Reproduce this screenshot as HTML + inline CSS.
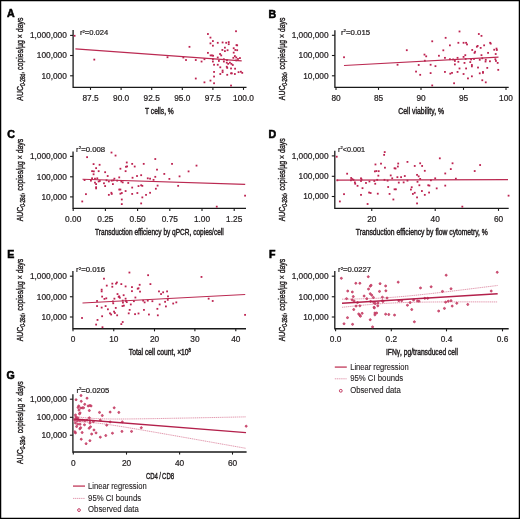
<!DOCTYPE html>
<html><head><meta charset="utf-8"><style>
html,body{margin:0;padding:0;background:#fff;}
body{width:520px;height:519px;overflow:hidden;}
svg{display:block;will-change:transform;}
text{font-family:"Liberation Sans",sans-serif;stroke:#231f20;stroke-width:0.22px;}
.lt{stroke:#000;stroke-width:0.55px;}
.tt{stroke-width:0.45px;}
.yl{stroke-width:0.42px;}
.lg{stroke-width:0.12px;}
</style></head><body>
<svg width="520" height="519" viewBox="0 0 520 519">
<rect x="0" y="0" width="520" height="519" fill="#fff"/>
<text x="7.10" y="16.60" font-size="10.6" text-anchor="start" font-weight="bold" fill="#000" class="lt">A</text>
<path d="M73.10 29.90 V87.30 H246.50" fill="none" stroke="#1a1a1a" stroke-width="1.3"/>
<path d="M70.10 35.40 H73.10" stroke="#1a1a1a" stroke-width="1.1"/>
<text x="66.80" y="38.30" font-size="8.3" text-anchor="end" font-weight="normal" fill="#231f20">1,000,000</text>
<path d="M70.10 55.50 H73.10" stroke="#1a1a1a" stroke-width="1.1"/>
<text x="66.80" y="58.40" font-size="8.3" text-anchor="end" font-weight="normal" fill="#231f20">100,000</text>
<path d="M70.10 75.80 H73.10" stroke="#1a1a1a" stroke-width="1.1"/>
<text x="66.80" y="78.70" font-size="8.3" text-anchor="end" font-weight="normal" fill="#231f20">10,000</text>
<path d="M90.50 87.30 V89.90" stroke="#1a1a1a" stroke-width="1.1"/>
<text x="90.50" y="100.90" font-size="8.3" text-anchor="middle" font-weight="normal" fill="#231f20">87.5</text>
<path d="M121.10 87.30 V89.90" stroke="#1a1a1a" stroke-width="1.1"/>
<text x="121.10" y="100.90" font-size="8.3" text-anchor="middle" font-weight="normal" fill="#231f20">90.0</text>
<path d="M151.70 87.30 V89.90" stroke="#1a1a1a" stroke-width="1.1"/>
<text x="151.70" y="100.90" font-size="8.3" text-anchor="middle" font-weight="normal" fill="#231f20">92.5</text>
<path d="M182.30 87.30 V89.90" stroke="#1a1a1a" stroke-width="1.1"/>
<text x="182.30" y="100.90" font-size="8.3" text-anchor="middle" font-weight="normal" fill="#231f20">95.0</text>
<path d="M212.90 87.30 V89.90" stroke="#1a1a1a" stroke-width="1.1"/>
<text x="212.90" y="100.90" font-size="8.3" text-anchor="middle" font-weight="normal" fill="#231f20">97.5</text>
<path d="M243.50 87.30 V89.90" stroke="#1a1a1a" stroke-width="1.1"/>
<text x="243.50" y="100.90" font-size="8.3" text-anchor="middle" font-weight="normal" fill="#231f20">100.0</text>
<text x="159.40" y="113.50" font-size="8.9" text-anchor="middle" font-weight="normal" fill="#231f20" textLength="28.80" lengthAdjust="spacingAndGlyphs" class="tt">T cells, %</text>
<g transform="translate(23.00,100.70) rotate(-90)">
<text class="yl" x="0" y="0" font-size="9.8" fill="#231f20" textLength="83.20" lengthAdjust="spacingAndGlyphs">AUC<tspan font-size="6.8" dy="2.2">0-28d</tspan><tspan dy="-2.2">, copies/µg × days</tspan></text>
</g>
<text x="79.90" y="35.00" font-size="7.4" fill="#231f20" textLength="28.40" lengthAdjust="spacingAndGlyphs">r<tspan font-size="4.2" dy="-2.4">2</tspan><tspan dy="2.4">=0.024</tspan></text>
<rect x="73.70" y="34.90" width="1.8" height="1.8" fill="#bd2250"/>
<rect x="93.40" y="58.70" width="1.8" height="1.8" fill="#bd2250"/>
<rect x="166.61" y="56.35" width="1.8" height="1.8" fill="#bd2250"/>
<rect x="182.45" y="56.58" width="1.8" height="1.8" fill="#bd2250"/>
<rect x="185.11" y="59.12" width="1.8" height="1.8" fill="#bd2250"/>
<rect x="188.58" y="45.94" width="1.8" height="1.8" fill="#bd2250"/>
<rect x="235.11" y="30.34" width="1.8" height="1.8" fill="#bd2250"/>
<rect x="207.02" y="33.11" width="1.8" height="1.8" fill="#bd2250"/>
<rect x="209.56" y="36.70" width="1.8" height="1.8" fill="#bd2250"/>
<rect x="211.99" y="40.16" width="1.8" height="1.8" fill="#bd2250"/>
<rect x="209.56" y="42.48" width="1.8" height="1.8" fill="#bd2250"/>
<rect x="211.99" y="44.79" width="1.8" height="1.8" fill="#bd2250"/>
<rect x="216.85" y="41.90" width="1.8" height="1.8" fill="#bd2250"/>
<rect x="221.70" y="41.55" width="1.8" height="1.8" fill="#bd2250"/>
<rect x="225.28" y="41.90" width="1.8" height="1.8" fill="#bd2250"/>
<rect x="227.83" y="41.20" width="1.8" height="1.8" fill="#bd2250"/>
<rect x="227.83" y="43.28" width="1.8" height="1.8" fill="#bd2250"/>
<rect x="235.57" y="44.21" width="1.8" height="1.8" fill="#bd2250"/>
<rect x="236.27" y="44.44" width="1.8" height="1.8" fill="#bd2250"/>
<rect x="224.01" y="46.75" width="1.8" height="1.8" fill="#bd2250"/>
<rect x="221.47" y="49.07" width="1.8" height="1.8" fill="#bd2250"/>
<rect x="224.01" y="50.22" width="1.8" height="1.8" fill="#bd2250"/>
<rect x="226.67" y="49.30" width="1.8" height="1.8" fill="#bd2250"/>
<rect x="232.80" y="47.33" width="1.8" height="1.8" fill="#bd2250"/>
<rect x="234.42" y="49.07" width="1.8" height="1.8" fill="#bd2250"/>
<rect x="236.27" y="49.30" width="1.8" height="1.8" fill="#bd2250"/>
<rect x="232.80" y="51.72" width="1.8" height="1.8" fill="#bd2250"/>
<rect x="207.02" y="51.96" width="1.8" height="1.8" fill="#bd2250"/>
<rect x="209.68" y="54.50" width="1.8" height="1.8" fill="#bd2250"/>
<rect x="211.07" y="54.50" width="1.8" height="1.8" fill="#bd2250"/>
<rect x="212.22" y="54.85" width="1.8" height="1.8" fill="#bd2250"/>
<rect x="219.16" y="53.11" width="1.8" height="1.8" fill="#bd2250"/>
<rect x="220.31" y="54.50" width="1.8" height="1.8" fill="#bd2250"/>
<rect x="216.85" y="56.58" width="1.8" height="1.8" fill="#bd2250"/>
<rect x="233.96" y="55.19" width="1.8" height="1.8" fill="#bd2250"/>
<rect x="232.45" y="56.93" width="1.8" height="1.8" fill="#bd2250"/>
<rect x="235.34" y="56.58" width="1.8" height="1.8" fill="#bd2250"/>
<rect x="237.08" y="58.08" width="1.8" height="1.8" fill="#bd2250"/>
<rect x="239.04" y="57.16" width="1.8" height="1.8" fill="#bd2250"/>
<rect x="194.88" y="59.12" width="1.8" height="1.8" fill="#bd2250"/>
<rect x="200.66" y="60.63" width="1.8" height="1.8" fill="#bd2250"/>
<rect x="203.55" y="58.31" width="1.8" height="1.8" fill="#bd2250"/>
<rect x="211.99" y="58.31" width="1.8" height="1.8" fill="#bd2250"/>
<rect x="211.99" y="60.63" width="1.8" height="1.8" fill="#bd2250"/>
<rect x="218.00" y="60.05" width="1.8" height="1.8" fill="#bd2250"/>
<rect x="222.97" y="58.31" width="1.8" height="1.8" fill="#bd2250"/>
<rect x="222.97" y="60.63" width="1.8" height="1.8" fill="#bd2250"/>
<rect x="226.09" y="59.24" width="1.8" height="1.8" fill="#bd2250"/>
<rect x="225.86" y="61.78" width="1.8" height="1.8" fill="#bd2250"/>
<rect x="227.25" y="62.94" width="1.8" height="1.8" fill="#bd2250"/>
<rect x="228.98" y="61.78" width="1.8" height="1.8" fill="#bd2250"/>
<rect x="230.49" y="62.94" width="1.8" height="1.8" fill="#bd2250"/>
<rect x="231.87" y="64.09" width="1.8" height="1.8" fill="#bd2250"/>
<rect x="235.34" y="59.47" width="1.8" height="1.8" fill="#bd2250"/>
<rect x="213.15" y="63.86" width="1.8" height="1.8" fill="#bd2250"/>
<rect x="216.85" y="63.86" width="1.8" height="1.8" fill="#bd2250"/>
<rect x="225.86" y="65.83" width="1.8" height="1.8" fill="#bd2250"/>
<rect x="226.33" y="66.98" width="1.8" height="1.8" fill="#bd2250"/>
<rect x="219.39" y="66.41" width="1.8" height="1.8" fill="#bd2250"/>
<rect x="230.14" y="67.56" width="1.8" height="1.8" fill="#bd2250"/>
<rect x="234.19" y="67.79" width="1.8" height="1.8" fill="#bd2250"/>
<rect x="213.15" y="71.03" width="1.8" height="1.8" fill="#bd2250"/>
<rect x="221.70" y="69.64" width="1.8" height="1.8" fill="#bd2250"/>
<rect x="221.70" y="71.26" width="1.8" height="1.8" fill="#bd2250"/>
<rect x="219.39" y="73.11" width="1.8" height="1.8" fill="#bd2250"/>
<rect x="226.33" y="73.92" width="1.8" height="1.8" fill="#bd2250"/>
<rect x="230.14" y="72.42" width="1.8" height="1.8" fill="#bd2250"/>
<rect x="230.95" y="72.42" width="1.8" height="1.8" fill="#bd2250"/>
<rect x="233.96" y="73.11" width="1.8" height="1.8" fill="#bd2250"/>
<rect x="237.65" y="71.26" width="1.8" height="1.8" fill="#bd2250"/>
<rect x="239.97" y="70.80" width="1.8" height="1.8" fill="#bd2250"/>
<rect x="241.35" y="71.96" width="1.8" height="1.8" fill="#bd2250"/>
<rect x="213.15" y="75.65" width="1.8" height="1.8" fill="#bd2250"/>
<rect x="194.88" y="77.62" width="1.8" height="1.8" fill="#bd2250"/>
<rect x="203.55" y="81.44" width="1.8" height="1.8" fill="#bd2250"/>
<rect x="209.56" y="79.70" width="1.8" height="1.8" fill="#bd2250"/>
<rect x="213.15" y="82.36" width="1.8" height="1.8" fill="#bd2250"/>
<rect x="230.14" y="84.67" width="1.8" height="1.8" fill="#bd2250"/>
<path d="M75.40 48.90 L241.70 60.90" stroke="#bb2a52" stroke-width="1.25" fill="none"/>
<text x="268.45" y="17.50" font-size="10.6" text-anchor="start" font-weight="bold" fill="#000" class="lt">B</text>
<path d="M334.90 30.20 V87.30 H508.70" fill="none" stroke="#1a1a1a" stroke-width="1.3"/>
<path d="M331.90 35.30 H334.90" stroke="#1a1a1a" stroke-width="1.1"/>
<text x="328.60" y="38.20" font-size="8.3" text-anchor="end" font-weight="normal" fill="#231f20">1,000,000</text>
<path d="M331.90 55.50 H334.90" stroke="#1a1a1a" stroke-width="1.1"/>
<text x="328.60" y="58.40" font-size="8.3" text-anchor="end" font-weight="normal" fill="#231f20">100,000</text>
<path d="M331.90 75.80 H334.90" stroke="#1a1a1a" stroke-width="1.1"/>
<text x="328.60" y="78.70" font-size="8.3" text-anchor="end" font-weight="normal" fill="#231f20">10,000</text>
<path d="M336.00 87.30 V89.90" stroke="#1a1a1a" stroke-width="1.1"/>
<text x="336.00" y="100.90" font-size="8.3" text-anchor="middle" font-weight="normal" fill="#231f20">80</text>
<path d="M378.50 87.30 V89.90" stroke="#1a1a1a" stroke-width="1.1"/>
<text x="378.50" y="100.90" font-size="8.3" text-anchor="middle" font-weight="normal" fill="#231f20">85</text>
<path d="M421.00 87.30 V89.90" stroke="#1a1a1a" stroke-width="1.1"/>
<text x="421.00" y="100.90" font-size="8.3" text-anchor="middle" font-weight="normal" fill="#231f20">90</text>
<path d="M463.50 87.30 V89.90" stroke="#1a1a1a" stroke-width="1.1"/>
<text x="463.50" y="100.90" font-size="8.3" text-anchor="middle" font-weight="normal" fill="#231f20">95</text>
<path d="M506.00 87.30 V89.90" stroke="#1a1a1a" stroke-width="1.1"/>
<text x="506.00" y="100.90" font-size="8.3" text-anchor="middle" font-weight="normal" fill="#231f20">100</text>
<text x="421.20" y="113.50" font-size="8.9" text-anchor="middle" font-weight="normal" fill="#231f20" textLength="45.80" lengthAdjust="spacingAndGlyphs" class="tt">Cell viability, %</text>
<g transform="translate(285.00,100.20) rotate(-90)">
<text class="yl" x="0" y="0" font-size="9.8" fill="#231f20" textLength="82.70" lengthAdjust="spacingAndGlyphs">AUC<tspan font-size="6.8" dy="2.2">0-28d</tspan><tspan dy="-2.2">, copies/µg × days</tspan></text>
</g>
<text x="341.00" y="34.70" font-size="7.4" fill="#231f20" textLength="29.10" lengthAdjust="spacingAndGlyphs">r<tspan font-size="4.2" dy="-2.4">2</tspan><tspan dy="2.4">=0.015</tspan></text>
<rect x="343.12" y="56.35" width="1.8" height="1.8" fill="#bd2250"/>
<rect x="444.74" y="36.93" width="1.8" height="1.8" fill="#bd2250"/>
<rect x="431.33" y="40.39" width="1.8" height="1.8" fill="#bd2250"/>
<rect x="449.01" y="44.44" width="1.8" height="1.8" fill="#bd2250"/>
<rect x="405.89" y="49.30" width="1.8" height="1.8" fill="#bd2250"/>
<rect x="442.42" y="49.41" width="1.8" height="1.8" fill="#bd2250"/>
<rect x="423.58" y="53.69" width="1.8" height="1.8" fill="#bd2250"/>
<rect x="425.31" y="55.42" width="1.8" height="1.8" fill="#bd2250"/>
<rect x="438.03" y="54.85" width="1.8" height="1.8" fill="#bd2250"/>
<rect x="444.04" y="56.93" width="1.8" height="1.8" fill="#bd2250"/>
<rect x="449.01" y="58.31" width="1.8" height="1.8" fill="#bd2250"/>
<rect x="423.93" y="59.82" width="1.8" height="1.8" fill="#bd2250"/>
<rect x="396.64" y="63.86" width="1.8" height="1.8" fill="#bd2250"/>
<rect x="417.80" y="64.09" width="1.8" height="1.8" fill="#bd2250"/>
<rect x="429.71" y="63.86" width="1.8" height="1.8" fill="#bd2250"/>
<rect x="434.56" y="65.25" width="1.8" height="1.8" fill="#bd2250"/>
<rect x="415.14" y="70.68" width="1.8" height="1.8" fill="#bd2250"/>
<rect x="419.30" y="73.92" width="1.8" height="1.8" fill="#bd2250"/>
<rect x="429.71" y="72.19" width="1.8" height="1.8" fill="#bd2250"/>
<rect x="444.04" y="71.03" width="1.8" height="1.8" fill="#bd2250"/>
<rect x="449.36" y="72.76" width="1.8" height="1.8" fill="#bd2250"/>
<rect x="431.33" y="84.56" width="1.8" height="1.8" fill="#bd2250"/>
<rect x="458.61" y="30.57" width="1.8" height="1.8" fill="#bd2250"/>
<rect x="477.92" y="33.11" width="1.8" height="1.8" fill="#bd2250"/>
<rect x="480.58" y="34.96" width="1.8" height="1.8" fill="#bd2250"/>
<rect x="457.46" y="41.90" width="1.8" height="1.8" fill="#bd2250"/>
<rect x="462.66" y="41.90" width="1.8" height="1.8" fill="#bd2250"/>
<rect x="465.20" y="41.90" width="1.8" height="1.8" fill="#bd2250"/>
<rect x="466.13" y="43.52" width="1.8" height="1.8" fill="#bd2250"/>
<rect x="489.25" y="41.90" width="1.8" height="1.8" fill="#bd2250"/>
<rect x="489.83" y="42.71" width="1.8" height="1.8" fill="#bd2250"/>
<rect x="476.76" y="45.02" width="1.8" height="1.8" fill="#bd2250"/>
<rect x="475.96" y="45.83" width="1.8" height="1.8" fill="#bd2250"/>
<rect x="479.77" y="46.98" width="1.8" height="1.8" fill="#bd2250"/>
<rect x="483.24" y="44.44" width="1.8" height="1.8" fill="#bd2250"/>
<rect x="471.33" y="49.07" width="1.8" height="1.8" fill="#bd2250"/>
<rect x="474.22" y="50.80" width="1.8" height="1.8" fill="#bd2250"/>
<rect x="473.64" y="51.96" width="1.8" height="1.8" fill="#bd2250"/>
<rect x="487.17" y="51.96" width="1.8" height="1.8" fill="#bd2250"/>
<rect x="493.30" y="48.83" width="1.8" height="1.8" fill="#bd2250"/>
<rect x="495.61" y="47.68" width="1.8" height="1.8" fill="#bd2250"/>
<rect x="495.96" y="49.07" width="1.8" height="1.8" fill="#bd2250"/>
<rect x="494.80" y="53.11" width="1.8" height="1.8" fill="#bd2250"/>
<rect x="464.39" y="54.27" width="1.8" height="1.8" fill="#bd2250"/>
<rect x="462.66" y="56.00" width="1.8" height="1.8" fill="#bd2250"/>
<rect x="480.58" y="54.27" width="1.8" height="1.8" fill="#bd2250"/>
<rect x="456.65" y="56.93" width="1.8" height="1.8" fill="#bd2250"/>
<rect x="452.26" y="58.55" width="1.8" height="1.8" fill="#bd2250"/>
<rect x="453.99" y="60.05" width="1.8" height="1.8" fill="#bd2250"/>
<rect x="457.46" y="60.86" width="1.8" height="1.8" fill="#bd2250"/>
<rect x="464.74" y="58.08" width="1.8" height="1.8" fill="#bd2250"/>
<rect x="470.18" y="58.55" width="1.8" height="1.8" fill="#bd2250"/>
<rect x="469.37" y="61.20" width="1.8" height="1.8" fill="#bd2250"/>
<rect x="473.07" y="58.08" width="1.8" height="1.8" fill="#bd2250"/>
<rect x="478.85" y="58.89" width="1.8" height="1.8" fill="#bd2250"/>
<rect x="481.39" y="57.39" width="1.8" height="1.8" fill="#bd2250"/>
<rect x="484.86" y="58.89" width="1.8" height="1.8" fill="#bd2250"/>
<rect x="484.63" y="60.63" width="1.8" height="1.8" fill="#bd2250"/>
<rect x="489.02" y="60.39" width="1.8" height="1.8" fill="#bd2250"/>
<rect x="494.45" y="58.31" width="1.8" height="1.8" fill="#bd2250"/>
<rect x="495.03" y="60.05" width="1.8" height="1.8" fill="#bd2250"/>
<rect x="496.76" y="62.01" width="1.8" height="1.8" fill="#bd2250"/>
<rect x="453.99" y="63.52" width="1.8" height="1.8" fill="#bd2250"/>
<rect x="463.59" y="62.01" width="1.8" height="1.8" fill="#bd2250"/>
<rect x="470.98" y="64.09" width="1.8" height="1.8" fill="#bd2250"/>
<rect x="470.98" y="65.48" width="1.8" height="1.8" fill="#bd2250"/>
<rect x="477.11" y="66.64" width="1.8" height="1.8" fill="#bd2250"/>
<rect x="486.36" y="66.98" width="1.8" height="1.8" fill="#bd2250"/>
<rect x="458.61" y="67.56" width="1.8" height="1.8" fill="#bd2250"/>
<rect x="465.20" y="67.56" width="1.8" height="1.8" fill="#bd2250"/>
<rect x="497.34" y="68.95" width="1.8" height="1.8" fill="#bd2250"/>
<rect x="451.10" y="71.96" width="1.8" height="1.8" fill="#bd2250"/>
<rect x="456.65" y="71.03" width="1.8" height="1.8" fill="#bd2250"/>
<rect x="462.66" y="73.11" width="1.8" height="1.8" fill="#bd2250"/>
<rect x="478.85" y="72.42" width="1.8" height="1.8" fill="#bd2250"/>
<rect x="482.08" y="71.03" width="1.8" height="1.8" fill="#bd2250"/>
<rect x="482.08" y="71.96" width="1.8" height="1.8" fill="#bd2250"/>
<rect x="467.05" y="77.50" width="1.8" height="1.8" fill="#bd2250"/>
<rect x="470.98" y="75.42" width="1.8" height="1.8" fill="#bd2250"/>
<rect x="481.39" y="79.35" width="1.8" height="1.8" fill="#bd2250"/>
<rect x="484.86" y="81.44" width="1.8" height="1.8" fill="#bd2250"/>
<rect x="453.18" y="82.36" width="1.8" height="1.8" fill="#bd2250"/>
<path d="M344.00 65.50 L498.50 57.20" stroke="#bb2a52" stroke-width="1.25" fill="none"/>
<text x="7.20" y="137.50" font-size="10.6" text-anchor="start" font-weight="bold" fill="#000" class="lt">C</text>
<path d="M73.05 151.40 V208.30 H246.00" fill="none" stroke="#1a1a1a" stroke-width="1.3"/>
<path d="M70.05 156.40 H73.05" stroke="#1a1a1a" stroke-width="1.1"/>
<text x="66.80" y="159.30" font-size="8.3" text-anchor="end" font-weight="normal" fill="#231f20">1,000,000</text>
<path d="M70.05 176.80 H73.05" stroke="#1a1a1a" stroke-width="1.1"/>
<text x="66.80" y="179.70" font-size="8.3" text-anchor="end" font-weight="normal" fill="#231f20">100,000</text>
<path d="M70.05 196.90 H73.05" stroke="#1a1a1a" stroke-width="1.1"/>
<text x="66.80" y="199.80" font-size="8.3" text-anchor="end" font-weight="normal" fill="#231f20">10,000</text>
<path d="M73.20 208.30 V210.90" stroke="#1a1a1a" stroke-width="1.1"/>
<text x="73.20" y="221.90" font-size="8.3" text-anchor="middle" font-weight="normal" fill="#231f20">0.00</text>
<path d="M105.40 208.30 V210.90" stroke="#1a1a1a" stroke-width="1.1"/>
<text x="105.40" y="221.90" font-size="8.3" text-anchor="middle" font-weight="normal" fill="#231f20">0.25</text>
<path d="M137.60 208.30 V210.90" stroke="#1a1a1a" stroke-width="1.1"/>
<text x="137.60" y="221.90" font-size="8.3" text-anchor="middle" font-weight="normal" fill="#231f20">0.50</text>
<path d="M169.80 208.30 V210.90" stroke="#1a1a1a" stroke-width="1.1"/>
<text x="169.80" y="221.90" font-size="8.3" text-anchor="middle" font-weight="normal" fill="#231f20">0.75</text>
<path d="M202.00 208.30 V210.90" stroke="#1a1a1a" stroke-width="1.1"/>
<text x="202.00" y="221.90" font-size="8.3" text-anchor="middle" font-weight="normal" fill="#231f20">1.00</text>
<path d="M234.20 208.30 V210.90" stroke="#1a1a1a" stroke-width="1.1"/>
<text x="234.20" y="221.90" font-size="8.3" text-anchor="middle" font-weight="normal" fill="#231f20">1.25</text>
<text x="159.40" y="235.00" font-size="8.9" text-anchor="middle" font-weight="normal" fill="#231f20" textLength="128.60" lengthAdjust="spacingAndGlyphs" class="tt">Transduction efficiency by qPCR, copies/cell</text>
<g transform="translate(23.00,221.30) rotate(-90)">
<text class="yl" x="0" y="0" font-size="9.8" fill="#231f20" textLength="82.50" lengthAdjust="spacingAndGlyphs">AUC<tspan font-size="6.8" dy="2.2">0-28d</tspan><tspan dy="-2.2">, copies/µg × days</tspan></text>
</g>
<text x="76.10" y="151.60" font-size="7.4" fill="#231f20" textLength="29.10" lengthAdjust="spacingAndGlyphs">r<tspan font-size="4.2" dy="-2.4">2</tspan><tspan dy="2.4">=0.008</tspan></text>
<rect x="110.60" y="151.64" width="1.8" height="1.8" fill="#bd2250"/>
<rect x="114.64" y="154.65" width="1.8" height="1.8" fill="#bd2250"/>
<rect x="86.20" y="156.27" width="1.8" height="1.8" fill="#bd2250"/>
<rect x="92.68" y="163.20" width="1.8" height="1.8" fill="#bd2250"/>
<rect x="98.69" y="163.90" width="1.8" height="1.8" fill="#bd2250"/>
<rect x="95.22" y="167.25" width="1.8" height="1.8" fill="#bd2250"/>
<rect x="91.18" y="170.26" width="1.8" height="1.8" fill="#bd2250"/>
<rect x="92.91" y="170.49" width="1.8" height="1.8" fill="#bd2250"/>
<rect x="97.76" y="170.26" width="1.8" height="1.8" fill="#bd2250"/>
<rect x="92.68" y="173.38" width="1.8" height="1.8" fill="#bd2250"/>
<rect x="104.24" y="171.30" width="1.8" height="1.8" fill="#bd2250"/>
<rect x="106.78" y="175.11" width="1.8" height="1.8" fill="#bd2250"/>
<rect x="119.50" y="167.83" width="1.8" height="1.8" fill="#bd2250"/>
<rect x="125.86" y="161.59" width="1.8" height="1.8" fill="#bd2250"/>
<rect x="125.05" y="165.86" width="1.8" height="1.8" fill="#bd2250"/>
<rect x="126.20" y="165.52" width="1.8" height="1.8" fill="#bd2250"/>
<rect x="124.70" y="170.26" width="1.8" height="1.8" fill="#bd2250"/>
<rect x="131.29" y="162.97" width="1.8" height="1.8" fill="#bd2250"/>
<rect x="118.34" y="176.50" width="1.8" height="1.8" fill="#bd2250"/>
<rect x="131.64" y="176.85" width="1.8" height="1.8" fill="#bd2250"/>
<rect x="83.66" y="179.16" width="1.8" height="1.8" fill="#bd2250"/>
<rect x="90.02" y="179.74" width="1.8" height="1.8" fill="#bd2250"/>
<rect x="91.18" y="177.42" width="1.8" height="1.8" fill="#bd2250"/>
<rect x="94.07" y="177.77" width="1.8" height="1.8" fill="#bd2250"/>
<rect x="96.38" y="177.42" width="1.8" height="1.8" fill="#bd2250"/>
<rect x="94.07" y="181.70" width="1.8" height="1.8" fill="#bd2250"/>
<rect x="95.22" y="183.20" width="1.8" height="1.8" fill="#bd2250"/>
<rect x="97.76" y="180.55" width="1.8" height="1.8" fill="#bd2250"/>
<rect x="98.92" y="180.08" width="1.8" height="1.8" fill="#bd2250"/>
<rect x="103.08" y="182.39" width="1.8" height="1.8" fill="#bd2250"/>
<rect x="104.24" y="185.17" width="1.8" height="1.8" fill="#bd2250"/>
<rect x="105.63" y="179.39" width="1.8" height="1.8" fill="#bd2250"/>
<rect x="107.94" y="180.55" width="1.8" height="1.8" fill="#bd2250"/>
<rect x="110.83" y="179.74" width="1.8" height="1.8" fill="#bd2250"/>
<rect x="112.56" y="179.39" width="1.8" height="1.8" fill="#bd2250"/>
<rect x="113.49" y="177.77" width="1.8" height="1.8" fill="#bd2250"/>
<rect x="116.26" y="179.74" width="1.8" height="1.8" fill="#bd2250"/>
<rect x="111.98" y="183.20" width="1.8" height="1.8" fill="#bd2250"/>
<rect x="120.42" y="180.55" width="1.8" height="1.8" fill="#bd2250"/>
<rect x="121.81" y="181.47" width="1.8" height="1.8" fill="#bd2250"/>
<rect x="127.36" y="182.05" width="1.8" height="1.8" fill="#bd2250"/>
<rect x="95.22" y="186.33" width="1.8" height="1.8" fill="#bd2250"/>
<rect x="95.22" y="187.48" width="1.8" height="1.8" fill="#bd2250"/>
<rect x="118.34" y="188.64" width="1.8" height="1.8" fill="#bd2250"/>
<rect x="119.50" y="188.64" width="1.8" height="1.8" fill="#bd2250"/>
<rect x="124.70" y="190.14" width="1.8" height="1.8" fill="#bd2250"/>
<rect x="131.29" y="186.67" width="1.8" height="1.8" fill="#bd2250"/>
<rect x="85.05" y="193.26" width="1.8" height="1.8" fill="#bd2250"/>
<rect x="107.94" y="193.96" width="1.8" height="1.8" fill="#bd2250"/>
<rect x="110.48" y="191.87" width="1.8" height="1.8" fill="#bd2250"/>
<rect x="110.83" y="193.03" width="1.8" height="1.8" fill="#bd2250"/>
<rect x="119.50" y="192.80" width="1.8" height="1.8" fill="#bd2250"/>
<rect x="120.89" y="192.11" width="1.8" height="1.8" fill="#bd2250"/>
<rect x="131.29" y="193.03" width="1.8" height="1.8" fill="#bd2250"/>
<rect x="81.35" y="200.55" width="1.8" height="1.8" fill="#bd2250"/>
<rect x="120.89" y="198.58" width="1.8" height="1.8" fill="#bd2250"/>
<rect x="120.89" y="203.20" width="1.8" height="1.8" fill="#bd2250"/>
<rect x="154.38" y="158.12" width="1.8" height="1.8" fill="#bd2250"/>
<rect x="142.82" y="162.97" width="1.8" height="1.8" fill="#bd2250"/>
<rect x="133.80" y="165.63" width="1.8" height="1.8" fill="#bd2250"/>
<rect x="171.14" y="162.97" width="1.8" height="1.8" fill="#bd2250"/>
<rect x="156.11" y="168.75" width="1.8" height="1.8" fill="#bd2250"/>
<rect x="187.67" y="170.49" width="1.8" height="1.8" fill="#bd2250"/>
<rect x="163.39" y="173.03" width="1.8" height="1.8" fill="#bd2250"/>
<rect x="136.11" y="175.11" width="1.8" height="1.8" fill="#bd2250"/>
<rect x="140.27" y="174.30" width="1.8" height="1.8" fill="#bd2250"/>
<rect x="146.86" y="177.42" width="1.8" height="1.8" fill="#bd2250"/>
<rect x="149.18" y="177.77" width="1.8" height="1.8" fill="#bd2250"/>
<rect x="154.38" y="175.92" width="1.8" height="1.8" fill="#bd2250"/>
<rect x="152.64" y="178.93" width="1.8" height="1.8" fill="#bd2250"/>
<rect x="168.48" y="178.00" width="1.8" height="1.8" fill="#bd2250"/>
<rect x="178.65" y="175.46" width="1.8" height="1.8" fill="#bd2250"/>
<rect x="137.61" y="185.17" width="1.8" height="1.8" fill="#bd2250"/>
<rect x="140.27" y="184.36" width="1.8" height="1.8" fill="#bd2250"/>
<rect x="141.43" y="184.94" width="1.8" height="1.8" fill="#bd2250"/>
<rect x="156.69" y="184.71" width="1.8" height="1.8" fill="#bd2250"/>
<rect x="154.96" y="187.83" width="1.8" height="1.8" fill="#bd2250"/>
<rect x="177.27" y="184.94" width="1.8" height="1.8" fill="#bd2250"/>
<rect x="136.46" y="192.11" width="1.8" height="1.8" fill="#bd2250"/>
<rect x="149.18" y="191.87" width="1.8" height="1.8" fill="#bd2250"/>
<rect x="145.13" y="193.96" width="1.8" height="1.8" fill="#bd2250"/>
<rect x="141.43" y="196.50" width="1.8" height="1.8" fill="#bd2250"/>
<rect x="140.27" y="202.51" width="1.8" height="1.8" fill="#bd2250"/>
<rect x="195.61" y="164.71" width="1.8" height="1.8" fill="#bd2250"/>
<rect x="244.17" y="194.76" width="1.8" height="1.8" fill="#bd2250"/>
<rect x="215.85" y="205.75" width="1.8" height="1.8" fill="#bd2250"/>
<path d="M82.50 179.25 L245.20 184.40" stroke="#bb2a52" stroke-width="1.25" fill="none"/>
<text x="268.45" y="137.50" font-size="10.6" text-anchor="start" font-weight="bold" fill="#000" class="lt">D</text>
<path d="M334.80 150.80 V208.30 H508.70" fill="none" stroke="#1a1a1a" stroke-width="1.3"/>
<path d="M331.80 155.90 H334.80" stroke="#1a1a1a" stroke-width="1.1"/>
<text x="328.60" y="158.80" font-size="8.3" text-anchor="end" font-weight="normal" fill="#231f20">1,000,000</text>
<path d="M331.80 176.30 H334.80" stroke="#1a1a1a" stroke-width="1.1"/>
<text x="328.60" y="179.20" font-size="8.3" text-anchor="end" font-weight="normal" fill="#231f20">100,000</text>
<path d="M331.80 196.50 H334.80" stroke="#1a1a1a" stroke-width="1.1"/>
<text x="328.60" y="199.40" font-size="8.3" text-anchor="end" font-weight="normal" fill="#231f20">10,000</text>
<path d="M371.75 208.30 V210.90" stroke="#1a1a1a" stroke-width="1.1"/>
<text x="371.75" y="221.90" font-size="8.3" text-anchor="middle" font-weight="normal" fill="#231f20">20</text>
<path d="M435.20 208.30 V210.90" stroke="#1a1a1a" stroke-width="1.1"/>
<text x="435.20" y="221.90" font-size="8.3" text-anchor="middle" font-weight="normal" fill="#231f20">40</text>
<path d="M498.50 208.30 V210.90" stroke="#1a1a1a" stroke-width="1.1"/>
<text x="498.50" y="221.90" font-size="8.3" text-anchor="middle" font-weight="normal" fill="#231f20">60</text>
<text x="421.80" y="235.00" font-size="8.9" text-anchor="middle" font-weight="normal" fill="#231f20" textLength="132.00" lengthAdjust="spacingAndGlyphs" class="tt">Transduction efficiency by flow cytometry, %</text>
<g transform="translate(285.00,221.30) rotate(-90)">
<text class="yl" x="0" y="0" font-size="9.8" fill="#231f20" textLength="83.00" lengthAdjust="spacingAndGlyphs">AUC<tspan font-size="6.8" dy="2.2">0-28d</tspan><tspan dy="-2.2">, copies/µg × days</tspan></text>
</g>
<text x="338.10" y="151.80" font-size="7.4" fill="#231f20" textLength="26.90" lengthAdjust="spacingAndGlyphs">r<tspan font-size="4.2" dy="-2.4">2</tspan><tspan dy="2.4">&lt;0.001</tspan></text>
<rect x="335.83" y="155.81" width="1.8" height="1.8" fill="#bd2250"/>
<rect x="383.81" y="151.18" width="1.8" height="1.8" fill="#bd2250"/>
<rect x="383.23" y="153.96" width="1.8" height="1.8" fill="#bd2250"/>
<rect x="374.56" y="163.55" width="1.8" height="1.8" fill="#bd2250"/>
<rect x="380.11" y="162.74" width="1.8" height="1.8" fill="#bd2250"/>
<rect x="384.04" y="166.79" width="1.8" height="1.8" fill="#bd2250"/>
<rect x="393.64" y="167.37" width="1.8" height="1.8" fill="#bd2250"/>
<rect x="373.98" y="170.49" width="1.8" height="1.8" fill="#bd2250"/>
<rect x="375.49" y="170.14" width="1.8" height="1.8" fill="#bd2250"/>
<rect x="377.80" y="170.26" width="1.8" height="1.8" fill="#bd2250"/>
<rect x="377.45" y="174.76" width="1.8" height="1.8" fill="#bd2250"/>
<rect x="346.24" y="172.80" width="1.8" height="1.8" fill="#bd2250"/>
<rect x="389.82" y="174.53" width="1.8" height="1.8" fill="#bd2250"/>
<rect x="391.33" y="177.42" width="1.8" height="1.8" fill="#bd2250"/>
<rect x="336.41" y="179.39" width="1.8" height="1.8" fill="#bd2250"/>
<rect x="350.28" y="177.08" width="1.8" height="1.8" fill="#bd2250"/>
<rect x="351.44" y="178.23" width="1.8" height="1.8" fill="#bd2250"/>
<rect x="350.05" y="179.39" width="1.8" height="1.8" fill="#bd2250"/>
<rect x="352.60" y="178.93" width="1.8" height="1.8" fill="#bd2250"/>
<rect x="353.98" y="181.47" width="1.8" height="1.8" fill="#bd2250"/>
<rect x="354.33" y="182.86" width="1.8" height="1.8" fill="#bd2250"/>
<rect x="360.11" y="177.42" width="1.8" height="1.8" fill="#bd2250"/>
<rect x="360.69" y="178.58" width="1.8" height="1.8" fill="#bd2250"/>
<rect x="360.11" y="180.08" width="1.8" height="1.8" fill="#bd2250"/>
<rect x="365.08" y="182.05" width="1.8" height="1.8" fill="#bd2250"/>
<rect x="368.55" y="180.55" width="1.8" height="1.8" fill="#bd2250"/>
<rect x="373.41" y="180.08" width="1.8" height="1.8" fill="#bd2250"/>
<rect x="374.33" y="182.86" width="1.8" height="1.8" fill="#bd2250"/>
<rect x="376.30" y="178.93" width="1.8" height="1.8" fill="#bd2250"/>
<rect x="383.58" y="178.93" width="1.8" height="1.8" fill="#bd2250"/>
<rect x="386.70" y="179.74" width="1.8" height="1.8" fill="#bd2250"/>
<rect x="387.28" y="186.09" width="1.8" height="1.8" fill="#bd2250"/>
<rect x="356.64" y="184.94" width="1.8" height="1.8" fill="#bd2250"/>
<rect x="361.61" y="187.25" width="1.8" height="1.8" fill="#bd2250"/>
<rect x="393.64" y="188.41" width="1.8" height="1.8" fill="#bd2250"/>
<rect x="343.12" y="193.26" width="1.8" height="1.8" fill="#bd2250"/>
<rect x="360.11" y="193.96" width="1.8" height="1.8" fill="#bd2250"/>
<rect x="368.20" y="191.64" width="1.8" height="1.8" fill="#bd2250"/>
<rect x="369.71" y="192.11" width="1.8" height="1.8" fill="#bd2250"/>
<rect x="376.87" y="192.80" width="1.8" height="1.8" fill="#bd2250"/>
<rect x="388.67" y="193.03" width="1.8" height="1.8" fill="#bd2250"/>
<rect x="338.96" y="200.55" width="1.8" height="1.8" fill="#bd2250"/>
<rect x="392.48" y="198.58" width="1.8" height="1.8" fill="#bd2250"/>
<rect x="366.70" y="203.09" width="1.8" height="1.8" fill="#bd2250"/>
<rect x="438.92" y="157.42" width="1.8" height="1.8" fill="#bd2250"/>
<rect x="406.55" y="161.01" width="1.8" height="1.8" fill="#bd2250"/>
<rect x="397.30" y="162.63" width="1.8" height="1.8" fill="#bd2250"/>
<rect x="396.96" y="165.63" width="1.8" height="1.8" fill="#bd2250"/>
<rect x="394.64" y="167.60" width="1.8" height="1.8" fill="#bd2250"/>
<rect x="413.83" y="165.05" width="1.8" height="1.8" fill="#bd2250"/>
<rect x="419.27" y="162.39" width="1.8" height="1.8" fill="#bd2250"/>
<rect x="421.23" y="165.05" width="1.8" height="1.8" fill="#bd2250"/>
<rect x="423.89" y="169.91" width="1.8" height="1.8" fill="#bd2250"/>
<rect x="451.64" y="162.39" width="1.8" height="1.8" fill="#bd2250"/>
<rect x="449.90" y="168.18" width="1.8" height="1.8" fill="#bd2250"/>
<rect x="444.35" y="172.57" width="1.8" height="1.8" fill="#bd2250"/>
<rect x="396.49" y="176.27" width="1.8" height="1.8" fill="#bd2250"/>
<rect x="400.19" y="176.27" width="1.8" height="1.8" fill="#bd2250"/>
<rect x="403.89" y="175.11" width="1.8" height="1.8" fill="#bd2250"/>
<rect x="416.15" y="173.96" width="1.8" height="1.8" fill="#bd2250"/>
<rect x="417.76" y="175.46" width="1.8" height="1.8" fill="#bd2250"/>
<rect x="419.27" y="178.00" width="1.8" height="1.8" fill="#bd2250"/>
<rect x="434.30" y="177.42" width="1.8" height="1.8" fill="#bd2250"/>
<rect x="406.55" y="179.74" width="1.8" height="1.8" fill="#bd2250"/>
<rect x="397.88" y="181.70" width="1.8" height="1.8" fill="#bd2250"/>
<rect x="402.74" y="181.47" width="1.8" height="1.8" fill="#bd2250"/>
<rect x="416.61" y="180.89" width="1.8" height="1.8" fill="#bd2250"/>
<rect x="430.02" y="179.39" width="1.8" height="1.8" fill="#bd2250"/>
<rect x="418.46" y="184.36" width="1.8" height="1.8" fill="#bd2250"/>
<rect x="427.36" y="184.36" width="1.8" height="1.8" fill="#bd2250"/>
<rect x="428.52" y="184.71" width="1.8" height="1.8" fill="#bd2250"/>
<rect x="444.35" y="184.71" width="1.8" height="1.8" fill="#bd2250"/>
<rect x="410.83" y="186.33" width="1.8" height="1.8" fill="#bd2250"/>
<rect x="410.02" y="188.64" width="1.8" height="1.8" fill="#bd2250"/>
<rect x="394.99" y="188.41" width="1.8" height="1.8" fill="#bd2250"/>
<rect x="435.80" y="187.48" width="1.8" height="1.8" fill="#bd2250"/>
<rect x="421.00" y="190.14" width="1.8" height="1.8" fill="#bd2250"/>
<rect x="411.98" y="193.03" width="1.8" height="1.8" fill="#bd2250"/>
<rect x="413.83" y="191.87" width="1.8" height="1.8" fill="#bd2250"/>
<rect x="428.17" y="191.64" width="1.8" height="1.8" fill="#bd2250"/>
<rect x="423.89" y="193.96" width="1.8" height="1.8" fill="#bd2250"/>
<rect x="416.15" y="196.50" width="1.8" height="1.8" fill="#bd2250"/>
<rect x="416.15" y="202.51" width="1.8" height="1.8" fill="#bd2250"/>
<rect x="454.96" y="177.77" width="1.8" height="1.8" fill="#bd2250"/>
<rect x="473.80" y="170.14" width="1.8" height="1.8" fill="#bd2250"/>
<rect x="479.23" y="164.13" width="1.8" height="1.8" fill="#bd2250"/>
<rect x="507.67" y="194.76" width="1.8" height="1.8" fill="#bd2250"/>
<rect x="461.43" y="205.75" width="1.8" height="1.8" fill="#bd2250"/>
<path d="M336.75 180.00 L508.00 179.60" stroke="#bb2a52" stroke-width="1.25" fill="none"/>
<text x="7.20" y="258.00" font-size="10.6" text-anchor="start" font-weight="bold" fill="#000" class="lt">E</text>
<path d="M72.90 271.10 V328.75 H246.00" fill="none" stroke="#1a1a1a" stroke-width="1.3"/>
<path d="M69.90 276.20 H72.90" stroke="#1a1a1a" stroke-width="1.1"/>
<text x="66.80" y="279.10" font-size="8.3" text-anchor="end" font-weight="normal" fill="#231f20">1,000,000</text>
<path d="M69.90 296.75 H72.90" stroke="#1a1a1a" stroke-width="1.1"/>
<text x="66.80" y="299.65" font-size="8.3" text-anchor="end" font-weight="normal" fill="#231f20">100,000</text>
<path d="M69.90 317.00 H72.90" stroke="#1a1a1a" stroke-width="1.1"/>
<text x="66.80" y="319.90" font-size="8.3" text-anchor="end" font-weight="normal" fill="#231f20">10,000</text>
<path d="M73.00 328.75 V331.35" stroke="#1a1a1a" stroke-width="1.1"/>
<text x="73.00" y="342.35" font-size="8.3" text-anchor="middle" font-weight="normal" fill="#231f20">0</text>
<path d="M113.75 328.75 V331.35" stroke="#1a1a1a" stroke-width="1.1"/>
<text x="113.75" y="342.35" font-size="8.3" text-anchor="middle" font-weight="normal" fill="#231f20">10</text>
<path d="M154.50 328.75 V331.35" stroke="#1a1a1a" stroke-width="1.1"/>
<text x="154.50" y="342.35" font-size="8.3" text-anchor="middle" font-weight="normal" fill="#231f20">20</text>
<path d="M194.90 328.75 V331.35" stroke="#1a1a1a" stroke-width="1.1"/>
<text x="194.90" y="342.35" font-size="8.3" text-anchor="middle" font-weight="normal" fill="#231f20">30</text>
<path d="M235.80 328.75 V331.35" stroke="#1a1a1a" stroke-width="1.1"/>
<text x="235.80" y="342.35" font-size="8.3" text-anchor="middle" font-weight="normal" fill="#231f20">40</text>
<text x="159.90" y="354.80" font-size="8.9" text-anchor="middle" font-weight="normal" fill="#231f20" textLength="62.10" lengthAdjust="spacingAndGlyphs" class="tt">Total cell count, ×10<tspan font-size="5.5" dy="-3">8</tspan></text>
<g transform="translate(23.00,341.30) rotate(-90)">
<text class="yl" x="0" y="0" font-size="9.8" fill="#231f20" textLength="82.50" lengthAdjust="spacingAndGlyphs">AUC<tspan font-size="6.8" dy="2.2">0-28d</tspan><tspan dy="-2.2">, copies/µg × days</tspan></text>
</g>
<text x="76.10" y="272.40" font-size="7.4" fill="#231f20" textLength="29.10" lengthAdjust="spacingAndGlyphs">r<tspan font-size="4.2" dy="-2.4">2</tspan><tspan dy="2.4">=0.016</tspan></text>
<rect x="128.52" y="271.64" width="1.8" height="1.8" fill="#bd2250"/>
<rect x="103.08" y="277.77" width="1.8" height="1.8" fill="#bd2250"/>
<rect x="105.86" y="284.71" width="1.8" height="1.8" fill="#bd2250"/>
<rect x="111.41" y="282.74" width="1.8" height="1.8" fill="#bd2250"/>
<rect x="111.41" y="285.86" width="1.8" height="1.8" fill="#bd2250"/>
<rect x="115.11" y="282.74" width="1.8" height="1.8" fill="#bd2250"/>
<rect x="116.03" y="281.59" width="1.8" height="1.8" fill="#bd2250"/>
<rect x="120.42" y="283.20" width="1.8" height="1.8" fill="#bd2250"/>
<rect x="124.70" y="285.52" width="1.8" height="1.8" fill="#bd2250"/>
<rect x="131.06" y="286.21" width="1.8" height="1.8" fill="#bd2250"/>
<rect x="131.06" y="290.26" width="1.8" height="1.8" fill="#bd2250"/>
<rect x="100.77" y="288.75" width="1.8" height="1.8" fill="#bd2250"/>
<rect x="100.77" y="290.49" width="1.8" height="1.8" fill="#bd2250"/>
<rect x="101.23" y="295.69" width="1.8" height="1.8" fill="#bd2250"/>
<rect x="103.55" y="298.00" width="1.8" height="1.8" fill="#bd2250"/>
<rect x="105.39" y="297.42" width="1.8" height="1.8" fill="#bd2250"/>
<rect x="116.61" y="293.15" width="1.8" height="1.8" fill="#bd2250"/>
<rect x="117.76" y="295.92" width="1.8" height="1.8" fill="#bd2250"/>
<rect x="118.92" y="296.85" width="1.8" height="1.8" fill="#bd2250"/>
<rect x="118.34" y="295.46" width="1.8" height="1.8" fill="#bd2250"/>
<rect x="122.74" y="294.30" width="1.8" height="1.8" fill="#bd2250"/>
<rect x="124.70" y="297.77" width="1.8" height="1.8" fill="#bd2250"/>
<rect x="113.49" y="297.77" width="1.8" height="1.8" fill="#bd2250"/>
<rect x="96.15" y="300.08" width="1.8" height="1.8" fill="#bd2250"/>
<rect x="111.98" y="300.55" width="1.8" height="1.8" fill="#bd2250"/>
<rect x="112.33" y="302.39" width="1.8" height="1.8" fill="#bd2250"/>
<rect x="121.81" y="299.74" width="1.8" height="1.8" fill="#bd2250"/>
<rect x="122.04" y="301.70" width="1.8" height="1.8" fill="#bd2250"/>
<rect x="125.05" y="300.08" width="1.8" height="1.8" fill="#bd2250"/>
<rect x="125.86" y="301.24" width="1.8" height="1.8" fill="#bd2250"/>
<rect x="96.15" y="305.17" width="1.8" height="1.8" fill="#bd2250"/>
<rect x="100.77" y="306.67" width="1.8" height="1.8" fill="#bd2250"/>
<rect x="104.70" y="305.17" width="1.8" height="1.8" fill="#bd2250"/>
<rect x="107.01" y="308.41" width="1.8" height="1.8" fill="#bd2250"/>
<rect x="114.87" y="307.02" width="1.8" height="1.8" fill="#bd2250"/>
<rect x="121.58" y="305.17" width="1.8" height="1.8" fill="#bd2250"/>
<rect x="122.97" y="304.71" width="1.8" height="1.8" fill="#bd2250"/>
<rect x="129.90" y="303.55" width="1.8" height="1.8" fill="#bd2250"/>
<rect x="128.75" y="308.98" width="1.8" height="1.8" fill="#bd2250"/>
<rect x="109.09" y="312.45" width="1.8" height="1.8" fill="#bd2250"/>
<rect x="110.25" y="313.61" width="1.8" height="1.8" fill="#bd2250"/>
<rect x="113.14" y="310.72" width="1.8" height="1.8" fill="#bd2250"/>
<rect x="113.95" y="312.11" width="1.8" height="1.8" fill="#bd2250"/>
<rect x="116.26" y="314.42" width="1.8" height="1.8" fill="#bd2250"/>
<rect x="127.82" y="312.45" width="1.8" height="1.8" fill="#bd2250"/>
<rect x="81.12" y="317.08" width="1.8" height="1.8" fill="#bd2250"/>
<rect x="101.23" y="315.34" width="1.8" height="1.8" fill="#bd2250"/>
<rect x="96.61" y="319.04" width="1.8" height="1.8" fill="#bd2250"/>
<rect x="95.22" y="323.67" width="1.8" height="1.8" fill="#bd2250"/>
<rect x="101.58" y="326.33" width="1.8" height="1.8" fill="#bd2250"/>
<rect x="120.42" y="323.20" width="1.8" height="1.8" fill="#bd2250"/>
<rect x="121.81" y="321.12" width="1.8" height="1.8" fill="#bd2250"/>
<rect x="147.21" y="274.30" width="1.8" height="1.8" fill="#bd2250"/>
<rect x="138.77" y="283.90" width="1.8" height="1.8" fill="#bd2250"/>
<rect x="149.52" y="283.20" width="1.8" height="1.8" fill="#bd2250"/>
<rect x="136.81" y="287.83" width="1.8" height="1.8" fill="#bd2250"/>
<rect x="137.61" y="287.37" width="1.8" height="1.8" fill="#bd2250"/>
<rect x="139.12" y="290.72" width="1.8" height="1.8" fill="#bd2250"/>
<rect x="134.49" y="296.61" width="1.8" height="1.8" fill="#bd2250"/>
<rect x="132.99" y="300.31" width="1.8" height="1.8" fill="#bd2250"/>
<rect x="142.24" y="299.74" width="1.8" height="1.8" fill="#bd2250"/>
<rect x="143.74" y="301.47" width="1.8" height="1.8" fill="#bd2250"/>
<rect x="146.86" y="299.74" width="1.8" height="1.8" fill="#bd2250"/>
<rect x="151.49" y="300.31" width="1.8" height="1.8" fill="#bd2250"/>
<rect x="143.05" y="308.98" width="1.8" height="1.8" fill="#bd2250"/>
<rect x="134.15" y="313.26" width="1.8" height="1.8" fill="#bd2250"/>
<rect x="137.61" y="312.57" width="1.8" height="1.8" fill="#bd2250"/>
<rect x="148.02" y="313.61" width="1.8" height="1.8" fill="#bd2250"/>
<rect x="158.08" y="290.49" width="1.8" height="1.8" fill="#bd2250"/>
<rect x="160.16" y="293.15" width="1.8" height="1.8" fill="#bd2250"/>
<rect x="162.24" y="291.41" width="1.8" height="1.8" fill="#bd2250"/>
<rect x="166.17" y="290.49" width="1.8" height="1.8" fill="#bd2250"/>
<rect x="167.09" y="295.46" width="1.8" height="1.8" fill="#bd2250"/>
<rect x="166.86" y="298.93" width="1.8" height="1.8" fill="#bd2250"/>
<rect x="164.20" y="300.89" width="1.8" height="1.8" fill="#bd2250"/>
<rect x="158.77" y="303.55" width="1.8" height="1.8" fill="#bd2250"/>
<rect x="165.01" y="305.52" width="1.8" height="1.8" fill="#bd2250"/>
<rect x="156.46" y="307.94" width="1.8" height="1.8" fill="#bd2250"/>
<rect x="156.92" y="314.42" width="1.8" height="1.8" fill="#bd2250"/>
<rect x="172.30" y="302.63" width="1.8" height="1.8" fill="#bd2250"/>
<rect x="175.42" y="301.47" width="1.8" height="1.8" fill="#bd2250"/>
<rect x="200.59" y="276.04" width="1.8" height="1.8" fill="#bd2250"/>
<rect x="207.75" y="297.77" width="1.8" height="1.8" fill="#bd2250"/>
<rect x="211.80" y="300.08" width="1.8" height="1.8" fill="#bd2250"/>
<rect x="244.17" y="313.96" width="1.8" height="1.8" fill="#bd2250"/>
<path d="M82.50 303.00 L245.20 294.50" stroke="#bb2a52" stroke-width="1.25" fill="none"/>
<text x="268.95" y="258.00" font-size="10.6" text-anchor="start" font-weight="bold" fill="#000" class="lt">F</text>
<path d="M334.80 271.10 V328.75 H508.70" fill="none" stroke="#1a1a1a" stroke-width="1.3"/>
<path d="M331.80 276.20 H334.80" stroke="#1a1a1a" stroke-width="1.1"/>
<text x="328.60" y="279.10" font-size="8.3" text-anchor="end" font-weight="normal" fill="#231f20">1,000,000</text>
<path d="M331.80 296.75 H334.80" stroke="#1a1a1a" stroke-width="1.1"/>
<text x="328.60" y="299.65" font-size="8.3" text-anchor="end" font-weight="normal" fill="#231f20">100,000</text>
<path d="M331.80 317.00 H334.80" stroke="#1a1a1a" stroke-width="1.1"/>
<text x="328.60" y="319.90" font-size="8.3" text-anchor="end" font-weight="normal" fill="#231f20">10,000</text>
<path d="M335.60 328.75 V331.35" stroke="#1a1a1a" stroke-width="1.1"/>
<text x="335.60" y="342.35" font-size="8.3" text-anchor="middle" font-weight="normal" fill="#231f20">0.0</text>
<path d="M391.30 328.75 V331.35" stroke="#1a1a1a" stroke-width="1.1"/>
<text x="391.30" y="342.35" font-size="8.3" text-anchor="middle" font-weight="normal" fill="#231f20">0.2</text>
<path d="M446.50 328.75 V331.35" stroke="#1a1a1a" stroke-width="1.1"/>
<text x="446.50" y="342.35" font-size="8.3" text-anchor="middle" font-weight="normal" fill="#231f20">0.4</text>
<path d="M502.50 328.75 V331.35" stroke="#1a1a1a" stroke-width="1.1"/>
<text x="502.50" y="342.35" font-size="8.3" text-anchor="middle" font-weight="normal" fill="#231f20">0.6</text>
<text x="422.00" y="354.80" font-size="8.9" text-anchor="middle" font-weight="normal" fill="#231f20" textLength="72.00" lengthAdjust="spacingAndGlyphs" class="tt">IFNγ, pg/transduced cell</text>
<g transform="translate(285.00,341.30) rotate(-90)">
<text class="yl" x="0" y="0" font-size="9.8" fill="#231f20" textLength="82.50" lengthAdjust="spacingAndGlyphs">AUC<tspan font-size="6.8" dy="2.2">0-28d</tspan><tspan dy="-2.2">, copies/µg × days</tspan></text>
</g>
<text x="338.10" y="272.40" font-size="7.4" fill="#231f20" textLength="33.00" lengthAdjust="spacingAndGlyphs">r<tspan font-size="4.2" dy="-2.4">2</tspan><tspan dy="2.4">=0.0227</tspan></text>
<polyline points="342.00,299.18 345.89,299.13 349.79,299.07 353.68,299.00 357.57,298.92 361.46,298.82 365.36,298.71 369.25,298.58 373.14,298.42 377.03,298.25 380.93,298.05 384.82,297.82 388.71,297.57 392.60,297.30 396.50,297.00 400.39,296.68 404.28,296.33 408.17,295.97 412.06,295.59 415.96,295.20 419.85,294.79 423.74,294.37 427.63,293.94 431.53,293.51 435.42,293.06 439.31,292.61 443.20,292.16 447.10,291.70 450.99,291.23 454.88,290.76 458.77,290.29 462.67,289.82 466.56,289.34 470.45,288.86 474.34,288.38 478.24,287.89 482.13,287.41 486.02,286.92 489.91,286.44 493.81,285.95 497.70,285.46" stroke="#e39bb0" stroke-width="1.0" stroke-dasharray="1.3 0.6" fill="none"/>
<polyline points="342.00,307.32 345.89,306.89 349.79,306.48 353.68,306.07 357.57,305.67 361.46,305.29 365.36,304.93 369.25,304.58 373.14,304.26 377.03,303.95 380.93,303.68 384.82,303.42 388.71,303.20 392.60,302.99 396.50,302.82 400.39,302.66 404.28,302.53 408.17,302.41 412.06,302.32 415.96,302.23 419.85,302.16 423.74,302.10 427.63,302.05 431.53,302.01 435.42,301.98 439.31,301.95 443.20,301.93 447.10,301.91 450.99,301.90 454.88,301.89 458.77,301.88 462.67,301.88 466.56,301.88 470.45,301.88 474.34,301.89 478.24,301.89 482.13,301.90 486.02,301.91 489.91,301.92 493.81,301.93 497.70,301.94" stroke="#e39bb0" stroke-width="1.0" stroke-dasharray="1.3 0.6" fill="none"/>
<circle cx="341.36" cy="278.32" r="1.0" fill="#d06080" stroke="#c0305a" stroke-width="0.75"/>
<circle cx="368.29" cy="276.71" r="1.0" fill="#d06080" stroke="#c0305a" stroke-width="0.75"/>
<circle cx="355.81" cy="283.29" r="1.0" fill="#d06080" stroke="#c0305a" stroke-width="0.75"/>
<circle cx="359.86" cy="283.29" r="1.0" fill="#d06080" stroke="#c0305a" stroke-width="0.75"/>
<circle cx="380.09" cy="283.64" r="1.0" fill="#d06080" stroke="#c0305a" stroke-width="0.75"/>
<circle cx="385.64" cy="285.95" r="1.0" fill="#d06080" stroke="#c0305a" stroke-width="0.75"/>
<circle cx="370.26" cy="286.18" r="1.0" fill="#d06080" stroke="#c0305a" stroke-width="0.75"/>
<circle cx="371.07" cy="285.26" r="1.0" fill="#d06080" stroke="#c0305a" stroke-width="0.75"/>
<circle cx="368.53" cy="289.08" r="1.0" fill="#d06080" stroke="#c0305a" stroke-width="0.75"/>
<circle cx="347.72" cy="291.04" r="1.0" fill="#d06080" stroke="#c0305a" stroke-width="0.75"/>
<circle cx="352.34" cy="291.97" r="1.0" fill="#d06080" stroke="#c0305a" stroke-width="0.75"/>
<circle cx="379.51" cy="291.39" r="1.0" fill="#d06080" stroke="#c0305a" stroke-width="0.75"/>
<circle cx="385.87" cy="290.81" r="1.0" fill="#d06080" stroke="#c0305a" stroke-width="0.75"/>
<circle cx="353.27" cy="296.59" r="1.0" fill="#d06080" stroke="#c0305a" stroke-width="0.75"/>
<circle cx="346.56" cy="298.67" r="1.0" fill="#d06080" stroke="#c0305a" stroke-width="0.75"/>
<circle cx="352.11" cy="299.83" r="1.0" fill="#d06080" stroke="#c0305a" stroke-width="0.75"/>
<circle cx="354.08" cy="300.98" r="1.0" fill="#d06080" stroke="#c0305a" stroke-width="0.75"/>
<circle cx="364.13" cy="296.01" r="1.0" fill="#d06080" stroke="#c0305a" stroke-width="0.75"/>
<circle cx="366.79" cy="298.67" r="1.0" fill="#d06080" stroke="#c0305a" stroke-width="0.75"/>
<circle cx="370.26" cy="293.70" r="1.0" fill="#d06080" stroke="#c0305a" stroke-width="0.75"/>
<circle cx="371.76" cy="295.20" r="1.0" fill="#d06080" stroke="#c0305a" stroke-width="0.75"/>
<circle cx="373.38" cy="297.51" r="1.0" fill="#d06080" stroke="#c0305a" stroke-width="0.75"/>
<circle cx="382.40" cy="297.17" r="1.0" fill="#d06080" stroke="#c0305a" stroke-width="0.75"/>
<circle cx="387.02" cy="297.98" r="1.0" fill="#d06080" stroke="#c0305a" stroke-width="0.75"/>
<circle cx="357.54" cy="302.60" r="1.0" fill="#d06080" stroke="#c0305a" stroke-width="0.75"/>
<circle cx="370.61" cy="301.45" r="1.0" fill="#d06080" stroke="#c0305a" stroke-width="0.75"/>
<circle cx="373.73" cy="302.60" r="1.0" fill="#d06080" stroke="#c0305a" stroke-width="0.75"/>
<circle cx="375.23" cy="303.53" r="1.0" fill="#d06080" stroke="#c0305a" stroke-width="0.75"/>
<circle cx="378.01" cy="302.95" r="1.0" fill="#d06080" stroke="#c0305a" stroke-width="0.75"/>
<circle cx="382.40" cy="300.64" r="1.0" fill="#d06080" stroke="#c0305a" stroke-width="0.75"/>
<circle cx="382.98" cy="301.45" r="1.0" fill="#d06080" stroke="#c0305a" stroke-width="0.75"/>
<circle cx="356.04" cy="306.07" r="1.0" fill="#d06080" stroke="#c0305a" stroke-width="0.75"/>
<circle cx="359.86" cy="305.84" r="1.0" fill="#d06080" stroke="#c0305a" stroke-width="0.75"/>
<circle cx="377.77" cy="305.84" r="1.0" fill="#d06080" stroke="#c0305a" stroke-width="0.75"/>
<circle cx="374.08" cy="307.23" r="1.0" fill="#d06080" stroke="#c0305a" stroke-width="0.75"/>
<circle cx="374.31" cy="307.92" r="1.0" fill="#d06080" stroke="#c0305a" stroke-width="0.75"/>
<circle cx="353.73" cy="309.54" r="1.0" fill="#d06080" stroke="#c0305a" stroke-width="0.75"/>
<circle cx="358.70" cy="313.93" r="1.0" fill="#d06080" stroke="#c0305a" stroke-width="0.75"/>
<circle cx="359.86" cy="315.32" r="1.0" fill="#d06080" stroke="#c0305a" stroke-width="0.75"/>
<circle cx="360.43" cy="316.24" r="1.0" fill="#d06080" stroke="#c0305a" stroke-width="0.75"/>
<circle cx="362.17" cy="313.35" r="1.0" fill="#d06080" stroke="#c0305a" stroke-width="0.75"/>
<circle cx="374.88" cy="313.01" r="1.0" fill="#d06080" stroke="#c0305a" stroke-width="0.75"/>
<circle cx="376.62" cy="313.01" r="1.0" fill="#d06080" stroke="#c0305a" stroke-width="0.75"/>
<circle cx="374.88" cy="314.86" r="1.0" fill="#d06080" stroke="#c0305a" stroke-width="0.75"/>
<circle cx="385.64" cy="314.16" r="1.0" fill="#d06080" stroke="#c0305a" stroke-width="0.75"/>
<circle cx="388.76" cy="314.51" r="1.0" fill="#d06080" stroke="#c0305a" stroke-width="0.75"/>
<circle cx="394.54" cy="315.09" r="1.0" fill="#d06080" stroke="#c0305a" stroke-width="0.75"/>
<circle cx="347.49" cy="317.63" r="1.0" fill="#d06080" stroke="#c0305a" stroke-width="0.75"/>
<circle cx="370.26" cy="319.71" r="1.0" fill="#d06080" stroke="#c0305a" stroke-width="0.75"/>
<circle cx="344.02" cy="323.76" r="1.0" fill="#d06080" stroke="#c0305a" stroke-width="0.75"/>
<circle cx="352.57" cy="324.34" r="1.0" fill="#d06080" stroke="#c0305a" stroke-width="0.75"/>
<circle cx="372.57" cy="326.88" r="1.0" fill="#d06080" stroke="#c0305a" stroke-width="0.75"/>
<circle cx="446.18" cy="275.20" r="1.0" fill="#d06080" stroke="#c0305a" stroke-width="0.75"/>
<circle cx="398.20" cy="282.14" r="1.0" fill="#d06080" stroke="#c0305a" stroke-width="0.75"/>
<circle cx="420.51" cy="287.92" r="1.0" fill="#d06080" stroke="#c0305a" stroke-width="0.75"/>
<circle cx="431.15" cy="286.76" r="1.0" fill="#d06080" stroke="#c0305a" stroke-width="0.75"/>
<circle cx="442.48" cy="291.39" r="1.0" fill="#d06080" stroke="#c0305a" stroke-width="0.75"/>
<circle cx="451.03" cy="288.73" r="1.0" fill="#d06080" stroke="#c0305a" stroke-width="0.75"/>
<circle cx="398.78" cy="300.64" r="1.0" fill="#d06080" stroke="#c0305a" stroke-width="0.75"/>
<circle cx="401.67" cy="300.64" r="1.0" fill="#d06080" stroke="#c0305a" stroke-width="0.75"/>
<circle cx="413.58" cy="300.06" r="1.0" fill="#d06080" stroke="#c0305a" stroke-width="0.75"/>
<circle cx="410.11" cy="302.60" r="1.0" fill="#d06080" stroke="#c0305a" stroke-width="0.75"/>
<circle cx="417.51" cy="300.98" r="1.0" fill="#d06080" stroke="#c0305a" stroke-width="0.75"/>
<circle cx="419.01" cy="301.21" r="1.0" fill="#d06080" stroke="#c0305a" stroke-width="0.75"/>
<circle cx="424.79" cy="298.32" r="1.0" fill="#d06080" stroke="#c0305a" stroke-width="0.75"/>
<circle cx="427.68" cy="298.32" r="1.0" fill="#d06080" stroke="#c0305a" stroke-width="0.75"/>
<circle cx="445.60" cy="302.14" r="1.0" fill="#d06080" stroke="#c0305a" stroke-width="0.75"/>
<circle cx="448.26" cy="301.21" r="1.0" fill="#d06080" stroke="#c0305a" stroke-width="0.75"/>
<circle cx="451.03" cy="300.64" r="1.0" fill="#d06080" stroke="#c0305a" stroke-width="0.75"/>
<circle cx="407.45" cy="305.26" r="1.0" fill="#d06080" stroke="#c0305a" stroke-width="0.75"/>
<circle cx="411.73" cy="309.54" r="1.0" fill="#d06080" stroke="#c0305a" stroke-width="0.75"/>
<circle cx="438.66" cy="311.04" r="1.0" fill="#d06080" stroke="#c0305a" stroke-width="0.75"/>
<circle cx="444.45" cy="308.38" r="1.0" fill="#d06080" stroke="#c0305a" stroke-width="0.75"/>
<circle cx="452.19" cy="306.07" r="1.0" fill="#d06080" stroke="#c0305a" stroke-width="0.75"/>
<circle cx="414.39" cy="321.79" r="1.0" fill="#d06080" stroke="#c0305a" stroke-width="0.75"/>
<circle cx="497.24" cy="272.31" r="1.0" fill="#d06080" stroke="#c0305a" stroke-width="0.75"/>
<circle cx="491.23" cy="291.04" r="1.0" fill="#d06080" stroke="#c0305a" stroke-width="0.75"/>
<circle cx="456.78" cy="303.29" r="1.0" fill="#d06080" stroke="#c0305a" stroke-width="0.75"/>
<circle cx="467.76" cy="304.45" r="1.0" fill="#d06080" stroke="#c0305a" stroke-width="0.75"/>
<path d="M342.00 303.25 L497.70 293.70" stroke="#b3204b" stroke-width="1.45" fill="none"/>
<text x="6.40" y="379.00" font-size="10.6" text-anchor="start" font-weight="bold" fill="#000" class="lt">G</text>
<path d="M72.90 394.30 V452.00 H246.60" fill="none" stroke="#1a1a1a" stroke-width="1.3"/>
<path d="M69.90 399.20 H72.90" stroke="#1a1a1a" stroke-width="1.1"/>
<text x="66.80" y="402.10" font-size="8.3" text-anchor="end" font-weight="normal" fill="#231f20">1,000,000</text>
<path d="M69.90 417.30 H72.90" stroke="#1a1a1a" stroke-width="1.1"/>
<text x="66.80" y="420.20" font-size="8.3" text-anchor="end" font-weight="normal" fill="#231f20">100,000</text>
<path d="M69.90 435.20 H72.90" stroke="#1a1a1a" stroke-width="1.1"/>
<text x="66.80" y="438.10" font-size="8.3" text-anchor="end" font-weight="normal" fill="#231f20">10,000</text>
<path d="M73.30 452.00 V454.60" stroke="#1a1a1a" stroke-width="1.1"/>
<text x="73.30" y="465.60" font-size="8.3" text-anchor="middle" font-weight="normal" fill="#231f20">0</text>
<path d="M126.50 452.00 V454.60" stroke="#1a1a1a" stroke-width="1.1"/>
<text x="126.50" y="465.60" font-size="8.3" text-anchor="middle" font-weight="normal" fill="#231f20">20</text>
<path d="M179.60 452.00 V454.60" stroke="#1a1a1a" stroke-width="1.1"/>
<text x="179.60" y="465.60" font-size="8.3" text-anchor="middle" font-weight="normal" fill="#231f20">40</text>
<path d="M232.50 452.00 V454.60" stroke="#1a1a1a" stroke-width="1.1"/>
<text x="232.50" y="465.60" font-size="8.3" text-anchor="middle" font-weight="normal" fill="#231f20">60</text>
<text x="160.00" y="478.70" font-size="9.4" text-anchor="middle" font-weight="normal" fill="#231f20" textLength="28.20" lengthAdjust="spacingAndGlyphs" class="tt">CD4 / CD8</text>
<g transform="translate(23.20,463.90) rotate(-90)">
<text class="yl" x="0" y="0" font-size="9.8" fill="#231f20" textLength="82.60" lengthAdjust="spacingAndGlyphs">AUC<tspan font-size="6.8" dy="2.2">0-28d</tspan><tspan dy="-2.2">, copies/µg × days</tspan></text>
</g>
<text x="76.40" y="392.60" font-size="7.4" fill="#231f20" textLength="32.90" lengthAdjust="spacingAndGlyphs">r<tspan font-size="4.2" dy="-2.4">2</tspan><tspan dy="2.4">=0.0205</tspan></text>
<polyline points="73.50,416.33 77.81,416.91 82.12,417.44 86.44,417.89 90.75,418.26 95.06,418.54 99.38,418.74 103.69,418.87 108.00,418.95 112.31,419.00 116.62,419.01 120.94,419.00 125.25,418.98 129.56,418.94 133.88,418.90 138.19,418.84 142.50,418.79 146.81,418.72 151.12,418.66 155.44,418.59 159.75,418.52 164.06,418.44 168.38,418.37 172.69,418.29 177.00,418.21 181.31,418.13 185.62,418.05 189.94,417.97 194.25,417.89 198.56,417.80 202.88,417.72 207.19,417.63 211.50,417.55 215.81,417.46 220.12,417.38 224.44,417.29 228.75,417.21 233.06,417.12 237.38,417.03 241.69,416.95 246.00,416.86" stroke="#e39bb0" stroke-width="1.0" stroke-dasharray="1.3 0.6" fill="none"/>
<polyline points="73.50,421.67 77.81,421.77 82.12,421.92 86.44,422.15 90.75,422.46 95.06,422.86 99.38,423.34 103.69,423.89 108.00,424.49 112.31,425.12 116.62,425.79 120.94,426.48 125.25,427.18 129.56,427.90 133.88,428.62 138.19,429.36 142.50,430.09 146.81,430.84 151.12,431.58 155.44,432.33 159.75,433.08 164.06,433.84 168.38,434.59 172.69,435.35 177.00,436.11 181.31,436.87 185.62,437.63 189.94,438.39 194.25,439.15 198.56,439.92 202.88,440.68 207.19,441.45 211.50,442.21 215.81,442.98 220.12,443.74 224.44,444.51 228.75,445.27 233.06,446.04 237.38,446.81 241.69,447.57 246.00,448.34" stroke="#e39bb0" stroke-width="1.0" stroke-dasharray="1.3 0.6" fill="none"/>
<circle cx="81.02" cy="395.54" r="1.0" fill="#d06080" stroke="#c0305a" stroke-width="0.75"/>
<circle cx="87.03" cy="398.20" r="1.0" fill="#d06080" stroke="#c0305a" stroke-width="0.75"/>
<circle cx="76.05" cy="399.71" r="1.0" fill="#d06080" stroke="#c0305a" stroke-width="0.75"/>
<circle cx="81.25" cy="401.32" r="1.0" fill="#d06080" stroke="#c0305a" stroke-width="0.75"/>
<circle cx="84.72" cy="404.33" r="1.0" fill="#d06080" stroke="#c0305a" stroke-width="0.75"/>
<circle cx="78.71" cy="405.95" r="1.0" fill="#d06080" stroke="#c0305a" stroke-width="0.75"/>
<circle cx="78.01" cy="407.45" r="1.0" fill="#d06080" stroke="#c0305a" stroke-width="0.75"/>
<circle cx="88.18" cy="405.95" r="1.0" fill="#d06080" stroke="#c0305a" stroke-width="0.75"/>
<circle cx="89.92" cy="405.49" r="1.0" fill="#d06080" stroke="#c0305a" stroke-width="0.75"/>
<circle cx="91.08" cy="405.95" r="1.0" fill="#d06080" stroke="#c0305a" stroke-width="0.75"/>
<circle cx="80.67" cy="408.03" r="1.0" fill="#d06080" stroke="#c0305a" stroke-width="0.75"/>
<circle cx="82.40" cy="407.80" r="1.0" fill="#d06080" stroke="#c0305a" stroke-width="0.75"/>
<circle cx="83.56" cy="407.80" r="1.0" fill="#d06080" stroke="#c0305a" stroke-width="0.75"/>
<circle cx="78.94" cy="410.11" r="1.0" fill="#d06080" stroke="#c0305a" stroke-width="0.75"/>
<circle cx="89.34" cy="410.57" r="1.0" fill="#d06080" stroke="#c0305a" stroke-width="0.75"/>
<circle cx="99.51" cy="412.42" r="1.0" fill="#d06080" stroke="#c0305a" stroke-width="0.75"/>
<circle cx="114.20" cy="407.80" r="1.0" fill="#d06080" stroke="#c0305a" stroke-width="0.75"/>
<circle cx="110.15" cy="412.08" r="1.0" fill="#d06080" stroke="#c0305a" stroke-width="0.75"/>
<circle cx="118.82" cy="412.42" r="1.0" fill="#d06080" stroke="#c0305a" stroke-width="0.75"/>
<circle cx="102.29" cy="415.54" r="1.0" fill="#d06080" stroke="#c0305a" stroke-width="0.75"/>
<circle cx="80.09" cy="412.88" r="1.0" fill="#d06080" stroke="#c0305a" stroke-width="0.75"/>
<circle cx="79.51" cy="413.81" r="1.0" fill="#d06080" stroke="#c0305a" stroke-width="0.75"/>
<circle cx="75.47" cy="414.97" r="1.0" fill="#d06080" stroke="#c0305a" stroke-width="0.75"/>
<circle cx="76.05" cy="417.28" r="1.0" fill="#d06080" stroke="#c0305a" stroke-width="0.75"/>
<circle cx="76.62" cy="418.43" r="1.0" fill="#d06080" stroke="#c0305a" stroke-width="0.75"/>
<circle cx="77.78" cy="417.86" r="1.0" fill="#d06080" stroke="#c0305a" stroke-width="0.75"/>
<circle cx="74.89" cy="420.17" r="1.0" fill="#d06080" stroke="#c0305a" stroke-width="0.75"/>
<circle cx="77.20" cy="420.75" r="1.0" fill="#d06080" stroke="#c0305a" stroke-width="0.75"/>
<circle cx="78.94" cy="420.17" r="1.0" fill="#d06080" stroke="#c0305a" stroke-width="0.75"/>
<circle cx="80.09" cy="420.51" r="1.0" fill="#d06080" stroke="#c0305a" stroke-width="0.75"/>
<circle cx="82.40" cy="420.17" r="1.0" fill="#d06080" stroke="#c0305a" stroke-width="0.75"/>
<circle cx="84.72" cy="420.75" r="1.0" fill="#d06080" stroke="#c0305a" stroke-width="0.75"/>
<circle cx="87.03" cy="420.17" r="1.0" fill="#d06080" stroke="#c0305a" stroke-width="0.75"/>
<circle cx="89.34" cy="417.86" r="1.0" fill="#d06080" stroke="#c0305a" stroke-width="0.75"/>
<circle cx="89.92" cy="420.75" r="1.0" fill="#d06080" stroke="#c0305a" stroke-width="0.75"/>
<circle cx="93.39" cy="421.67" r="1.0" fill="#d06080" stroke="#c0305a" stroke-width="0.75"/>
<circle cx="100.32" cy="420.17" r="1.0" fill="#d06080" stroke="#c0305a" stroke-width="0.75"/>
<circle cx="110.15" cy="421.90" r="1.0" fill="#d06080" stroke="#c0305a" stroke-width="0.75"/>
<circle cx="122.29" cy="421.90" r="1.0" fill="#d06080" stroke="#c0305a" stroke-width="0.75"/>
<circle cx="75.47" cy="423.06" r="1.0" fill="#d06080" stroke="#c0305a" stroke-width="0.75"/>
<circle cx="77.78" cy="424.21" r="1.0" fill="#d06080" stroke="#c0305a" stroke-width="0.75"/>
<circle cx="80.09" cy="424.21" r="1.0" fill="#d06080" stroke="#c0305a" stroke-width="0.75"/>
<circle cx="76.62" cy="426.53" r="1.0" fill="#d06080" stroke="#c0305a" stroke-width="0.75"/>
<circle cx="80.67" cy="427.68" r="1.0" fill="#d06080" stroke="#c0305a" stroke-width="0.75"/>
<circle cx="79.86" cy="428.84" r="1.0" fill="#d06080" stroke="#c0305a" stroke-width="0.75"/>
<circle cx="84.49" cy="424.79" r="1.0" fill="#d06080" stroke="#c0305a" stroke-width="0.75"/>
<circle cx="89.92" cy="423.06" r="1.0" fill="#d06080" stroke="#c0305a" stroke-width="0.75"/>
<circle cx="90.50" cy="426.76" r="1.0" fill="#d06080" stroke="#c0305a" stroke-width="0.75"/>
<circle cx="89.11" cy="428.26" r="1.0" fill="#d06080" stroke="#c0305a" stroke-width="0.75"/>
<circle cx="106.68" cy="425.14" r="1.0" fill="#d06080" stroke="#c0305a" stroke-width="0.75"/>
<circle cx="93.97" cy="429.99" r="1.0" fill="#d06080" stroke="#c0305a" stroke-width="0.75"/>
<circle cx="96.05" cy="432.88" r="1.0" fill="#d06080" stroke="#c0305a" stroke-width="0.75"/>
<circle cx="91.65" cy="434.04" r="1.0" fill="#d06080" stroke="#c0305a" stroke-width="0.75"/>
<circle cx="82.17" cy="432.54" r="1.0" fill="#d06080" stroke="#c0305a" stroke-width="0.75"/>
<circle cx="75.47" cy="432.88" r="1.0" fill="#d06080" stroke="#c0305a" stroke-width="0.75"/>
<circle cx="74.89" cy="431.73" r="1.0" fill="#d06080" stroke="#c0305a" stroke-width="0.75"/>
<circle cx="121.94" cy="431.38" r="1.0" fill="#d06080" stroke="#c0305a" stroke-width="0.75"/>
<circle cx="131.54" cy="431.38" r="1.0" fill="#d06080" stroke="#c0305a" stroke-width="0.75"/>
<circle cx="112.46" cy="433.23" r="1.0" fill="#d06080" stroke="#c0305a" stroke-width="0.75"/>
<circle cx="105.76" cy="435.54" r="1.0" fill="#d06080" stroke="#c0305a" stroke-width="0.75"/>
<circle cx="100.32" cy="437.16" r="1.0" fill="#d06080" stroke="#c0305a" stroke-width="0.75"/>
<circle cx="81.25" cy="439.24" r="1.0" fill="#d06080" stroke="#c0305a" stroke-width="0.75"/>
<circle cx="89.92" cy="440.63" r="1.0" fill="#d06080" stroke="#c0305a" stroke-width="0.75"/>
<circle cx="86.10" cy="443.64" r="1.0" fill="#d06080" stroke="#c0305a" stroke-width="0.75"/>
<circle cx="141.30" cy="427.70" r="1.0" fill="#d06080" stroke="#c0305a" stroke-width="0.75"/>
<circle cx="246.20" cy="426.20" r="1.0" fill="#d06080" stroke="#c0305a" stroke-width="0.75"/>
<path d="M73.50 419.00 L246.00 432.60" stroke="#b3204b" stroke-width="1.45" fill="none"/>
<path d="M334.80 367.10 H346.80" stroke="#c9536f" stroke-width="1.5"/>
<path d="M334.80 378.80 H346.80" stroke="#e39bb0" stroke-width="1.0" stroke-dasharray="1.3 0.6"/>
<circle cx="340.80" cy="390.80" r="1.4" fill="none" stroke="#c23a62" stroke-width="1"/>
<text x="350.20" y="369.90" font-size="8.5" text-anchor="start" font-weight="normal" fill="#231f20" textLength="58.60" lengthAdjust="spacingAndGlyphs" class="lg">Linear regression</text>
<text x="350.20" y="381.20" font-size="8.5" text-anchor="start" font-weight="normal" fill="#231f20" textLength="53.00" lengthAdjust="spacingAndGlyphs" class="lg">95% CI bounds</text>
<text x="350.20" y="393.00" font-size="8.5" text-anchor="start" font-weight="normal" fill="#231f20" textLength="50.60" lengthAdjust="spacingAndGlyphs" class="lg">Observed data</text>
<path d="M73.00 486.10 H85.00" stroke="#c9536f" stroke-width="1.5"/>
<path d="M73.00 498.40 H85.00" stroke="#e39bb0" stroke-width="1.0" stroke-dasharray="1.3 0.6"/>
<circle cx="79.00" cy="510.10" r="1.4" fill="none" stroke="#c23a62" stroke-width="1"/>
<text x="88.10" y="488.90" font-size="8.5" text-anchor="start" font-weight="normal" fill="#231f20" textLength="58.60" lengthAdjust="spacingAndGlyphs" class="lg">Linear regression</text>
<text x="88.10" y="500.80" font-size="8.5" text-anchor="start" font-weight="normal" fill="#231f20" textLength="53.00" lengthAdjust="spacingAndGlyphs" class="lg">95% CI bounds</text>
<text x="88.10" y="512.30" font-size="8.5" text-anchor="start" font-weight="normal" fill="#231f20" textLength="50.60" lengthAdjust="spacingAndGlyphs" class="lg">Observed data</text>
<rect x="0.6" y="0.6" width="518.8" height="517.8" fill="none" stroke="#000" stroke-width="1.3"/>
</svg>
</body></html>
